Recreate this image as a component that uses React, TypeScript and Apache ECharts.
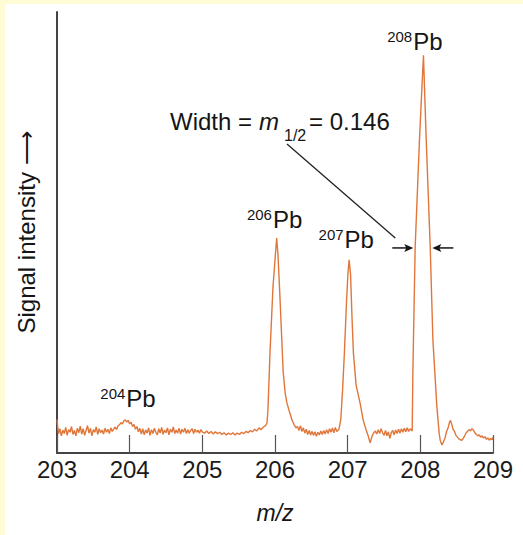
import React, { useEffect, useRef } from 'react';
import * as echarts from 'echarts';

// m/z axis ticks
const xTicks = [203, 204, 205, 206, 207, 208, 209];

// spectrum: [m/z, signal intensity (0-100)]
const spectrum: [number, number][] = [
  [203.00,7.6],[203.02,4.3],[203.04,5.5],[203.06,3.9],[203.08,5.2],[203.10,4.4],[203.12,5.8],[203.14,4.0],[203.16,5.3],[203.18,4.7],
  [203.20,6.0],[203.22,4.2],[203.24,5.1],[203.26,3.9],[203.28,5.6],[203.30,4.6],[203.32,6.1],[203.34,4.3],[203.36,5.5],[203.38,4.0],
  [203.40,5.1],[203.42,6.2],[203.44,4.5],[203.46,5.6],[203.48,3.9],[203.50,5.3],[203.52,4.7],[203.54,5.9],[203.56,4.2],[203.58,5.5],
  [203.60,4.6],[203.62,5.2],[203.64,4.3],[203.66,5.6],[203.68,4.7],[203.70,5.4],[203.72,4.4],[203.74,5.7],[203.76,4.9],[203.78,5.4],
  [203.80,5.9],[203.82,5.3],[203.84,6.2],[203.86,6.4],[203.88,6.9],[203.90,6.6],[203.92,7.3],[203.94,7.5],[203.96,7.0],[203.98,7.4],
  [204.00,6.6],[204.02,7.0],[204.04,6.0],[204.06,6.5],[204.08,5.4],[204.10,6.0],[204.12,4.8],[204.14,5.6],[204.16,4.3],[204.18,5.5],
  [204.20,4.1],[204.22,5.2],[204.24,4.5],[204.26,5.7],[204.28,4.0],[204.30,5.3],[204.32,4.4],[204.34,5.6],[204.36,4.7],[204.38,4.1],
  [204.40,5.5],[204.42,4.5],[204.44,5.8],[204.46,4.2],[204.48,5.2],[204.50,4.6],[204.52,5.7],[204.54,4.1],[204.56,5.4],[204.58,4.7],
  [204.60,5.9],[204.62,4.4],[204.64,5.2],[204.66,4.5],[204.68,5.6],[204.70,4.3],[204.72,5.4],[204.74,4.7],[204.76,5.6],[204.78,4.4],
  [204.80,5.3],[204.82,4.5],[204.84,5.1],[204.86,5.5],[204.88,4.4],[204.90,5.4],[204.92,4.7],[204.94,5.2],[204.96,4.5],[204.98,5.3],
  [205.00,4.8],[205.03,4.5],[205.06,5.0],[205.09,4.4],[205.12,4.9],[205.15,4.3],[205.18,4.8],[205.21,4.4],[205.24,4.7],[205.27,4.2],
  [205.30,4.6],[205.33,4.1],[205.36,4.5],[205.39,4.2],[205.42,4.6],[205.45,4.1],[205.48,4.5],[205.51,4.2],[205.54,4.7],[205.57,4.4],
  [205.60,4.9],[205.63,4.6],[205.66,5.1],[205.69,4.8],[205.72,5.4],[205.75,5.0],[205.78,5.7],[205.81,5.3],[205.84,5.9],[205.87,6.2],
  [205.890,6.8],[205.903,9.8],[205.931,22.7],[205.972,37.6],[206.000,43.8],[206.023,48.75],[206.041,45.0],[206.065,36.5],[206.090,27.0],[206.112,18.5],
  [206.140,13.6],[206.165,11.3],[206.200,9.3],[206.234,7.5],[206.260,6.5],[206.289,5.7],
  [206.31,6.0],[206.33,5.1],[206.35,6.2],[206.37,4.9],[206.39,5.7],[206.41,4.5],[206.43,5.4],[206.45,4.2],[206.47,5.1],[206.49,4.1],
  [206.51,4.9],[206.53,4.0],[206.55,4.8],[206.57,3.8],[206.59,4.7],[206.61,4.1],[206.63,5.0],[206.65,4.2],[206.67,5.1],[206.69,4.3],
  [206.71,5.3],[206.73,4.4],[206.75,5.5],[206.77,4.7],[206.79,5.7],[206.81,4.6],[206.83,5.8],[206.85,4.9],[206.88,5.4],
  [206.905,7.5],[206.930,14.3],[206.955,22.7],[206.985,34.7],[207.005,41.0],[207.020,43.8],[207.040,40.4],[207.061,30.2],[207.079,22.7],[207.116,15.4],
  [207.171,11.3],[207.213,7.5],[207.254,5.2],[207.282,3.9],[207.309,2.3],[207.337,3.9],[207.36,4.6],[207.38,5.0],
  [207.40,4.3],[207.42,5.3],[207.44,4.4],[207.46,5.5],[207.48,4.6],[207.50,4.0],[207.52,5.1],[207.54,3.9],[207.56,4.8],[207.58,3.3],
  [207.60,4.6],[207.62,5.1],[207.64,4.1],[207.66,5.2],[207.68,4.4],[207.70,5.4],[207.72,4.5],[207.74,5.5],[207.76,4.7],[207.78,5.6],
  [207.80,4.8],[207.82,5.7],[207.84,4.9],[207.86,5.5],[207.888,5.0],
  [207.897,18.1],[207.929,46.7],[207.988,71.0],[208.043,90.2],[208.081,71.0],[208.136,46.7],[208.173,25.6],[208.228,10.4],[208.259,4.5],[208.273,2.9],
  [208.297,1.8],[208.32,2.6],[208.34,3.4],[208.36,4.8],[208.38,5.6],[208.40,6.9],[208.415,7.4],[208.43,6.6],[208.45,5.4],[208.47,4.9],
  [208.49,4.0],[208.51,3.6],[208.53,3.2],[208.55,3.0],[208.57,2.9],[208.59,3.3],[208.61,3.9],[208.63,4.6],[208.65,4.9],[208.67,5.3],
  [208.69,5.0],[208.71,5.5],[208.73,5.2],[208.75,4.6],[208.77,4.2],[208.79,3.9],[208.81,4.1],[208.83,3.6],[208.85,3.9],[208.87,3.4],
  [208.89,3.7],[208.91,3.1],[208.93,3.4],[208.95,2.9],[208.97,3.3],[208.99,3.0],[209.00,3.6],
];

// isotope labels: mass number, anchor m/z (split between superscript and "Pb"), anchor level (baseline of "Pb")
const peakMasses = ['204', '206', '207', '208'];
const peakLabelMz = [203.947, 205.965, 206.951, 207.895];
const peakLabelLevel = [10.4, 51.0, 46.5, 91.4];

// half-width arrows on the 208 peak
const halfWidthTipsMz = [207.903, 208.165];
const halfWidthLevel = 46.5;

const FONT = '"Liberation Sans", Arial, Helvetica, sans-serif';
const INK = '#151515';

export default function App() {
  const ref = useRef<HTMLDivElement>(null);

  useEffect(() => {
    const chart = echarts.init(ref.current!, null, { renderer: 'svg' });
    chart.setOption({
      animation: false,
      backgroundColor: 'transparent',
      textStyle: { fontFamily: FONT },
      grid: { left: 57, right: 30, top: 12, bottom: 82 },
      xAxis: {
        type: 'value',
        min: xTicks[0],
        max: xTicks[xTicks.length - 1],
        interval: 1,
        name: 'm/z',
        nameLocation: 'middle',
        nameGap: 48,
        nameTextStyle: { fontSize: 23, fontStyle: 'italic', color: INK, fontFamily: FONT },
        axisLine: { show: true, onZero: false, lineStyle: { color: '#444', width: 2 } },
        axisTick: { show: true, inside: true, length: 18, lineStyle: { color: '#555', width: 1.2 } },
        axisLabel: { fontSize: 24, color: '#1a1a1a', margin: 4, showMinLabel: true, showMaxLabel: true, fontFamily: FONT },
        splitLine: { show: false },
      },
      yAxis: {
        type: 'value',
        min: 0,
        max: 100,
        name: 'Signal intensity \u27F6',
        nameLocation: 'middle',
        nameGap: 19,
        nameTextStyle: { fontSize: 24, color: INK, fontFamily: FONT },
        axisLine: { show: true, lineStyle: { color: '#444', width: 2 } },
        axisTick: { show: false },
        axisLabel: { show: false },
        splitLine: { show: false },
      },
      series: [
        {
          type: 'line',
          data: spectrum,
          showSymbol: false,
          symbol: 'none',
          silent: true,
          lineStyle: { color: '#e0763a', width: 1.4 },
        },
      ],
    });

    const px = (x: number, y: number) => chart.convertToPixel({ gridIndex: 0 }, [x, y]) as number[];
    const graphics: any[] = [];

    peakMasses.forEach((m, i) => {
      const p = px(peakLabelMz[i], peakLabelLevel[i]);
      graphics.push({
        type: 'text', x: p[0] - 0.5, y: p[1] - 13.5, silent: true,
        style: { text: m, fontSize: 15, fontFamily: FONT, fill: INK, align: 'right', verticalAlign: 'middle' },
      });
      graphics.push({
        type: 'text', x: p[0] + 0.5, y: p[1] - 8.3, silent: true,
        style: { text: 'Pb', fontSize: 24, fontFamily: FONT, fill: INK, align: 'left', verticalAlign: 'middle' },
      });
    });

    // Width = m1/2 = 0.146 annotation
    const baseY = 130;
    const mid = baseY - 8.3;
    graphics.push({ type: 'text', x: 170, y: mid, silent: true, style: { text: 'Width =', fontSize: 24, fontFamily: FONT, fill: INK, align: 'left', verticalAlign: 'middle' } });
    graphics.push({ type: 'text', x: 259, y: mid, silent: true, style: { text: 'm', fontSize: 24, fontStyle: 'italic', fontFamily: FONT, fill: INK, align: 'left', verticalAlign: 'middle' } });
    graphics.push({ type: 'text', x: 284, y: baseY + 5, silent: true, style: { text: '1/2', fontSize: 16, fontFamily: FONT, fill: INK, align: 'left', verticalAlign: 'middle' } });
    graphics.push({ type: 'text', x: 309, y: mid, silent: true, style: { text: '= 0.146', fontSize: 24, fontFamily: FONT, fill: INK, align: 'left', verticalAlign: 'middle' } });

    const lt = px(halfWidthTipsMz[0], halfWidthLevel);
    const rt = px(halfWidthTipsMz[1], halfWidthLevel);
    const ay = lt[1];
    // leader line
    graphics.push({ type: 'line', silent: true, shape: { x1: 287, y1: 144, x2: lt[0] - 18, y2: ay - 10 }, style: { stroke: '#222', lineWidth: 1.3 } });
    // left arrow (pointing right)
    graphics.push({ type: 'line', silent: true, shape: { x1: lt[0] - 21, y1: ay, x2: lt[0] - 6, y2: ay }, style: { stroke: INK, lineWidth: 1.5 } });
    graphics.push({ type: 'polygon', silent: true, shape: { points: [[lt[0], ay], [lt[0] - 9, ay - 4], [lt[0] - 7, ay], [lt[0] - 9, ay + 4]] }, style: { fill: INK } });
    // right arrow (pointing left)
    graphics.push({ type: 'line', silent: true, shape: { x1: rt[0] + 21, y1: ay, x2: rt[0] + 6, y2: ay }, style: { stroke: INK, lineWidth: 1.5 } });
    graphics.push({ type: 'polygon', silent: true, shape: { points: [[rt[0], ay], [rt[0] + 9, ay - 4], [rt[0] + 7, ay], [rt[0] + 9, ay + 4]] }, style: { fill: INK } });

    chart.setOption({ graphic: graphics });

    return () => chart.dispose();
  }, []);

  return (
    <div style={{ position: 'fixed', left: 0, top: 0, width: 523, height: 535, background: '#fefcd4', overflow: 'hidden' }}>
      <div style={{ position: 'absolute', left: 5, top: 4, right: 0, bottom: 0, background: '#ffffff' }} />
      <div ref={ref} style={{ position: 'absolute', left: 0, top: 0, width: 523, height: 535 }} />
    </div>
  );
}
